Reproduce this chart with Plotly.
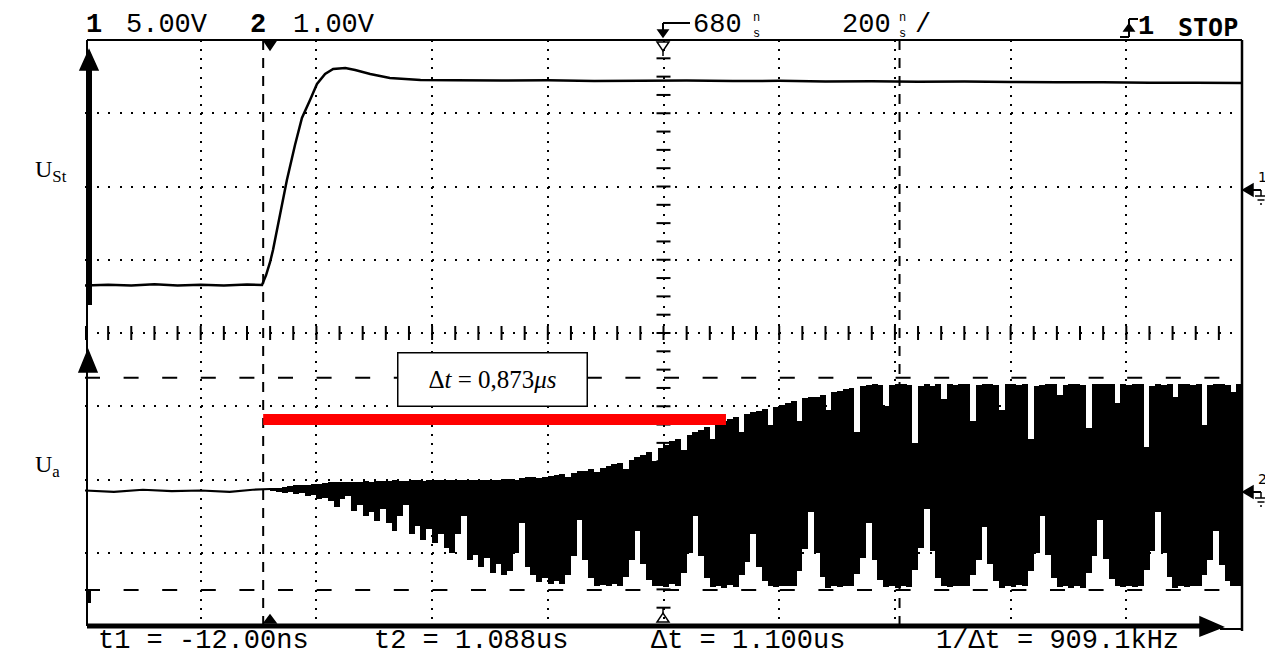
import numpy as np
import plotly.graph_objects as go

# ---------------- data ----------------
# time axis in microseconds (200 ns/div, 680 ns delay at screen centre)
T_RANGE = [-0.32, 1.68]
# channel 1 (5 V/div): control voltage U_St
ch1_t = [-0.32, -0.28, -0.24, -0.20, -0.16, -0.12, -0.08, -0.04, -0.014, -0.007, 0.0, 0.005,
         0.017, 0.029, 0.043, 0.055, 0.069, 0.081, 0.095, 0.109, 0.130, 0.147, 0.173, 0.207,
         0.26, 0.32, 0.40, 0.48, 0.56, 0.64, 0.72, 0.80, 0.88, 0.96, 1.04, 1.12, 1.20, 1.28,
         1.36, 1.44, 1.52, 1.60, 1.68]
ch1_v = [-6.5, -6.45, -6.5, -6.42, -6.5, -6.45, -6.5, -6.44, -6.47, -5.8, -4.9, -4.08,
         -1.70, 0.69, 3.08, 4.93, 6.15, 7.25, 7.93, 8.27, 8.34, 8.2, 7.93, 7.66,
         7.52, 7.5, 7.48, 7.5, 7.45, 7.47, 7.48, 7.45, 7.46, 7.42, 7.44, 7.4, 7.42, 7.38,
         7.36, 7.37, 7.33, 7.34, 7.32]
# channel 2 (1 V/div): output voltage U_a, quiet part before the trigger
ch2_base_t = [-0.32, -0.27, -0.22, -0.17, -0.12, -0.07, -0.03, 0.0]
ch2_base_v = [0.0, -0.02, 0.01, -0.01, 0.0, -0.02, 0.01, 0.02]
# channel 2 after the trigger: per display column (0.01 us wide) the
# highest and lowest value drawn by the scope (V)
SAMPLE_DT = 0.01
ch2_col_max = [
    0.03, 0.04, 0.05, 0.06, 0.07, 0.07, 0.08, 0.09, 0.09, 0.10,
    0.11, 0.11, 0.11, 0.12, 0.12, 0.12, 0.13, 0.12, 0.13, 0.13,
    0.13, 0.14, 0.13, 0.13, 0.14, 0.14, 0.13, 0.14, 0.14, 0.14,
    0.14, 0.15, 0.14, 0.14, 0.15, 0.15, 0.14, 0.15, 0.15, 0.15,
    0.16, 0.16, 0.15, 0.17, 0.18, 0.18, 0.17, 0.19, 0.20, 0.21,
    0.22, 0.18, 0.24, 0.26, 0.27, 0.29, 0.25, 0.31, 0.33, 0.36,
    0.38, 0.30, 0.42, 0.46, 0.48, 0.52, 0.40, 0.58, 0.62, 0.67,
    0.70, 0.55, 0.76, 0.80, 0.82, 0.86, 0.70, 0.91, 0.95, 0.98,
    1.00, 0.80, 1.05, 1.07, 1.08, 1.11, 0.90, 1.14, 1.17, 1.20,
    1.22, 0.95, 1.26, 1.27, 1.28, 1.31, 1.10, 1.34, 1.36, 1.38,
    1.40, 0.80, 1.42, 1.44, 1.45, 1.44, 1.15, 1.44, 1.46, 1.45,
    1.44, 0.65, 1.43, 1.45, 1.43, 1.46, 1.25, 1.45, 1.44, 1.46,
    1.45, 0.95, 1.44, 1.46, 1.46, 1.44, 1.10, 1.46, 1.45, 1.44,
    1.46, 0.70, 1.42, 1.44, 1.45, 1.46, 1.30, 1.44, 1.46, 1.45,
    1.44, 0.85, 1.45, 1.46, 1.46, 1.45, 1.20, 1.45, 1.44, 1.46,
    1.45, 0.60, 1.43, 1.45, 1.44, 1.46, 1.28, 1.46, 1.45, 1.44,
    1.46, 0.90, 1.44, 1.45, 1.45, 1.44, 1.35, 1.45]
ch2_col_min = [
    -0.01, -0.02, -0.03, -0.02, -0.05, -0.04, -0.08, -0.06, -0.12, -0.10,
    -0.15, -0.22, -0.12, -0.08, -0.28, -0.20, -0.35, -0.30, -0.42, -0.25,
    -0.45, -0.55, -0.35, -0.20, -0.60, -0.48, -0.68, -0.52, -0.72, -0.60,
    -0.78, -0.85, -0.60, -0.35, -0.95, -0.88, -1.05, -0.92, -1.12, -1.00,
    -1.15, -1.10, -0.85, -0.45, -1.05, -1.15, -1.25, -1.20, -1.27, -1.24,
    -1.28, -1.15, -0.90, -0.40, -0.95, -1.20, -1.30, -1.29, -1.31, -1.27,
    -1.30, -1.18, -0.95, -0.55, -1.00, -1.22, -1.31, -1.30, -1.32, -1.28,
    -1.31, -1.12, -0.85, -0.35, -0.90, -1.20, -1.32, -1.31, -1.33, -1.29,
    -1.32, -1.15, -0.98, -0.60, -1.05, -1.24, -1.30, -1.32, -1.31, -1.30,
    -1.30, -1.10, -0.80, -0.30, -0.85, -1.18, -1.33, -1.30, -1.32, -1.31,
    -1.31, -1.14, -0.92, -0.45, -0.95, -1.22, -1.32, -1.31, -1.33, -1.30,
    -1.32, -1.08, -0.78, -0.25, -0.82, -1.19, -1.31, -1.32, -1.30, -1.31,
    -1.30, -1.16, -0.95, -0.50, -1.00, -1.23, -1.33, -1.30, -1.32, -1.29,
    -1.31, -1.10, -0.85, -0.35, -0.88, -1.20, -1.32, -1.31, -1.33, -1.30,
    -1.33, -1.13, -0.90, -0.40, -0.93, -1.21, -1.30, -1.32, -1.31, -1.32,
    -1.30, -1.09, -0.82, -0.30, -0.86, -1.18, -1.33, -1.30, -1.32, -1.31,
    -1.31, -1.15, -0.95, -0.55, -1.02, -1.24, -1.31, -1.30]
# cursors
cursor_t = [-0.012, 1.088]          # t1, t2 (us)
cursor_v2 = [1.54, -1.36]           # voltage cursors on channel 2 (V)
delay_bar_t = [-0.012, 0.788]       # red marking bar (us)
delay_bar_v2 = 0.97                 # its level on channel 2 (V)
box_text = "Δ<i>t</i> = 0,873<i>μs</i>"

header_texts = ["5.00V", "1.00V", "680", "200", "STOP"]
footer_texts = ["t1 = -12.00ns", "t2 = 1.088us", "Δt = 1.100us", "1/Δt = 909.1kHz"]

# screen calibration (divisions)
CH1_GND, CH1_SCALE = 1.95, 5.0
CH2_GND, CH2_SCALE = -2.15, 1.0

def d1(v):
    return [CH1_GND + x / CH1_SCALE for x in v]

def d2(v):
    return [CH2_GND + x / CH2_SCALE for x in v]

col_t = [round((k + 0.5) * SAMPLE_DT, 4) for k in range(len(ch2_col_max))]
col_lo = d2(ch2_col_min)
col_hi = d2(ch2_col_max)
col_h = [h - l for h, l in zip(col_hi, col_lo)]

# ---------------- figure ----------------
OFF = 8                       # page body margin of the browser
W, H = 1273 - OFF, 666 - 2 * OFF
L, R, T, B = 85, 1242, 40, 626   # plot area in screenshot pixels

def px(x):
    return (x - L) / (R - L)

def py(y):
    return (B - y) / (B - T)

SCOPE_FONT = "Liberation Mono"
fig = go.Figure()

# voltage cursors (dashed, horizontal)
for v in cursor_v2:
    fig.add_trace(go.Scatter(x=T_RANGE, y=d2([v, v]), mode="lines",
                             line=dict(color="black", width=2, dash="15px,23.6px"),
                             hoverinfo="skip", showlegend=False))
# time cursors (dashed, vertical)
for t in cursor_t:
    fig.add_trace(go.Scatter(x=[t, t], y=[-4, 4], mode="lines",
                             line=dict(color="black", width=2, dash="10px,8px"),
                             hoverinfo="skip", showlegend=False))
# centre graticule ticks
cx = (T_RANGE[0] + T_RANGE[1]) / 2
fig.add_trace(go.Scatter(x=[cx] * 33, y=list(np.arange(-4, 4.001, 0.25)), mode="markers",
                         marker=dict(symbol="line-ew", size=10, line=dict(color="black", width=2)),
                         hoverinfo="skip", showlegend=False))
fig.add_trace(go.Scatter(x=list(np.arange(T_RANGE[0], T_RANGE[1] + 1e-6, 0.04)), y=[0] * 51,
                         mode="markers",
                         marker=dict(symbol="line-ns", size=10, line=dict(color="black", width=2)),
                         hoverinfo="skip", showlegend=False))

# channel 2 oscillation as min/max columns
fig.add_trace(go.Bar(x=col_t, y=col_h, base=col_lo, width=SAMPLE_DT * 1.03,
                     marker=dict(color="black", line=dict(width=0)),
                     hoverinfo="skip", showlegend=False))
# channel traces
fig.add_trace(go.Scatter(x=ch1_t, y=d1(ch1_v), mode="lines",
                         line=dict(color="black", width=2.5, simplify=False),
                         hoverinfo="skip", showlegend=False))
fig.add_trace(go.Scatter(x=ch2_base_t, y=d2(ch2_base_v), mode="lines",
                         line=dict(color="black", width=2.2, simplify=False),
                         hoverinfo="skip", showlegend=False))
# red marking bar
fig.add_trace(go.Scatter(x=delay_bar_t, y=d2([delay_bar_v2, delay_bar_v2]), mode="lines",
                         line=dict(color="#ff0000", width=11),
                         hoverinfo="skip", showlegend=False))

# ---------------- decorations (screenshot pixel positions) ----------------
shapes = []

def line(x0, y0, x1, y1, w=2):
    shapes.append(dict(type="line", xref="paper", yref="paper", x0=px(x0), y0=py(y0),
                       x1=px(x1), y1=py(y1), line=dict(color="black", width=w), layer="above"))

def poly(pts, fill=True, w=1.5):
    path = "M " + " L ".join(f"{px(a):.5f},{py(b):.5f}" for a, b in pts) + " Z"
    shapes.append(dict(type="path", xref="paper", yref="paper", path=path,
                       fillcolor="black" if fill else "rgba(0,0,0,0)",
                       line=dict(color="black", width=w), layer="above"))

# frame
line(87, 40, 1242, 40, 2)
line(1242, 40, 1242, 631, 2.5)
line(87, 40, 87, 626, 2)
line(87, 626, 1205, 626, 5)
poly([(1200, 617), (1223, 627), (1200, 636)])
line(1220, 629, 1242, 629, 2)
# channel arrows on the left
line(89.5, 66, 89.5, 305, 5)
poly([(80, 70), (89, 50), (98, 70)])
poly([(79, 372), (88, 350), (97, 372)])
line(88.5, 590, 88.5, 603, 5)
# trigger markers
poly([(264, 41), (276, 41), (270, 50)])
poly([(264, 623), (276, 623), (270, 615)])
poly([(657, 42), (669, 42), (663, 51)], fill=False)
line(663, 51, 663, 56, 1.5)
poly([(657, 622), (669, 622), (663, 613)], fill=False)
line(663, 608, 663, 613, 1.5)
line(663, 23, 690, 23, 2)
line(663, 23, 663, 31, 2)
poly([(658, 30), (668, 30), (663, 37)])
# trigger slope symbol
line(1120, 37, 1129, 37, 2)
line(1129, 37, 1129, 19, 2)
line(1129, 19, 1138, 19, 2)
poly([(1124, 31), (1129, 24), (1134, 31)])
# ground markers on the right
for yy in (190, 492):
    poly([(1243, yy), (1253, yy - 6), (1253, yy + 6)])
    line(1253, yy, 1261, yy, 2)
    line(1261, yy, 1261, yy + 6, 1.5)
    line(1255, yy + 6, 1267, yy + 6, 1.5)
    line(1257.5, yy + 10, 1264.5, yy + 10, 1.5)
    line(1260, yy + 14, 1262, yy + 14, 1.5)

ann = []

def text(x, y, s, size=27, family=SCOPE_FONT, anchor="center"):
    ann.append(dict(x=px(x), y=py(y), xref="paper", yref="paper", text=s, showarrow=False,
                    xanchor=anchor, yanchor="middle",
                    font=dict(family=family, size=size, color="black")))

# header
text(94, 25, "<b>1</b>")
text(167, 25, header_texts[0])
text(258, 25, "<b>2</b>")
text(334, 25, header_texts[1])
text(717, 25, header_texts[2])
text(756, 26, "n<br>s", size=12)
text(866, 25, header_texts[3])
text(902, 26, "n<br>s", size=12)
text(923, 25, "/")
text(1146, 27, "<b>1</b>")
text(1208, 27, f"<b>{header_texts[4]}</b>", family="DejaVu Sans Mono", size=25)
# footer
text(203, 641, footer_texts[0])
text(471, 641, footer_texts[1])
text(748, 641, footer_texts[2])
text(1057, 641, footer_texts[3])
# channel labels
text(33, 171, "U<sub>St</sub>", size=24, family="Liberation Serif", anchor="left")
text(33, 466, "U<sub>a</sub>", size=24, family="Liberation Serif", anchor="left")
text(1263, 177, "1", size=14, family="DejaVu Sans")
text(1263, 479, "2", size=14, family="DejaVu Sans")
# measurement box
ann.append(dict(x=px(492), y=py(379), xref="paper", yref="paper", text=box_text, showarrow=False,
                xanchor="center", yanchor="middle", width=186, height=50, borderpad=1,
                bgcolor="white", bordercolor="black", borderwidth=1.5,
                font=dict(family="Liberation Serif", size=25, color="black")))

fig.update_layout(
    width=W, height=H, autosize=False,
    margin=dict(l=L - OFF, r=1273 - R, t=T - OFF, b=H - (B - OFF)),
    paper_bgcolor="white", plot_bgcolor="white",
    shapes=shapes, annotations=ann, showlegend=False, bargap=0,
    xaxis=dict(range=T_RANGE, showgrid=True, dtick=0.2, tick0=T_RANGE[0], gridcolor="black",
               gridwidth=2, griddash="2px,7.16px", showticklabels=False, ticks="",
               zeroline=False, showline=False, fixedrange=True),
    yaxis=dict(range=[-4, 4], showgrid=True, dtick=1, tick0=0, gridcolor="black",
               gridwidth=2, griddash="2px,9.57px", showticklabels=False, ticks="",
               zeroline=False, showline=False, fixedrange=True),
)

fig.write_html("out.html")
